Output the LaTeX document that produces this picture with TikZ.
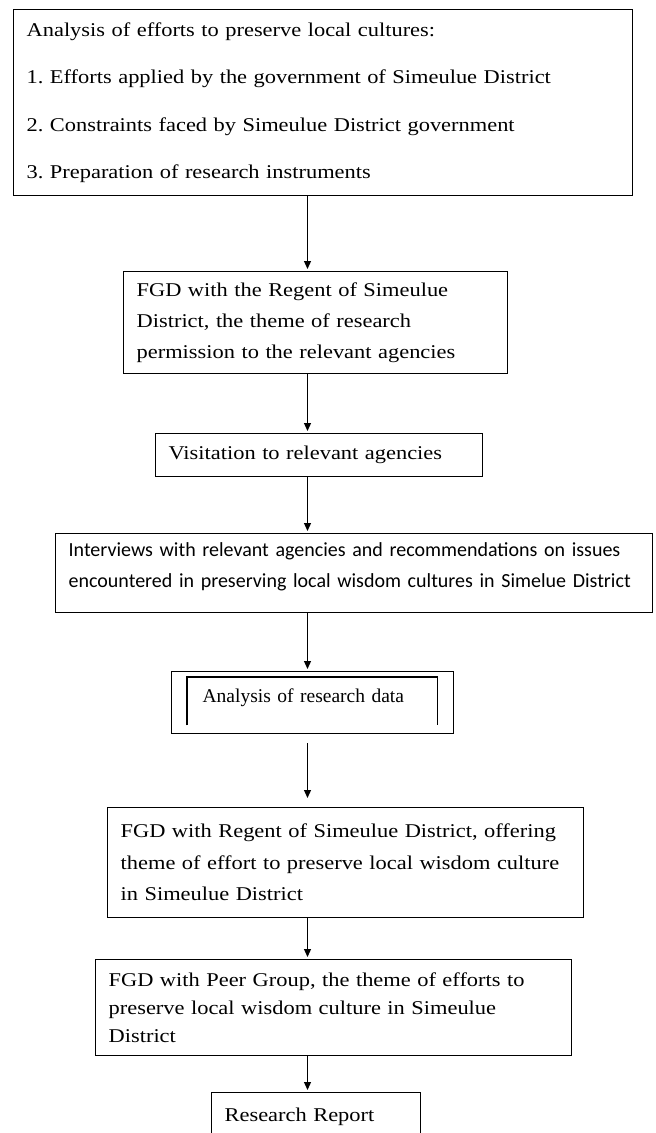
\documentclass[tikz,border=0pt]{standalone}
\usepackage{fontspec}
\setmainfont{Liberation Serif}
\newfontfamily\cambria[FakeStretch=1.15]{Liberation Serif}
\newfontfamily\calibri{Carlito}
\usepackage{tikz}
\usetikzlibrary{arrows.meta}
\frenchspacing
\tikzset{
  blok/.style={draw,line width=1.3pt,anchor=north west,align=left,inner xsep=13pt,inner ysep=0pt,
    font=\cambria\fontsize{19.5}{31}\selectfont},
  arah/.style={line width=1.2pt,-{Triangle[length=8pt,width=7pt]},shorten >=2pt},
}

\begin{document}
\begin{tikzpicture}[x=1pt,y=-1pt]
  \useasboundingbox (0,0) rectangle (656,1133);
  \coordinate (ax) at (307.5,0);
  \node[blok,text width=593pt,minimum height=186pt,font=\cambria\fontsize{19.5}{47.3}\selectfont] (top) at (13,9)
    {Analysis of efforts to preserve local cultures:\\
     1. Efforts applied by the government of Simeulue District\\
     2. Constraints faced by Simeulue District government\\
     3. Preparation of research instruments};
  \node[blok,text width=358pt,minimum height=102pt] (fgd1) at (123,271)
    {FGD with the Regent of Simeulue\\ District, the theme of research\\ permission to the relevant agencies};
  \node[blok,text width=301pt,minimum height=43pt] (visit) at (155,433) {Visitation to relevant agencies};
  \node[blok,text width=571pt,minimum height=79pt,text height=0pt,text depth=33pt,
    font=\calibri\fontsize{20}{31}\selectfont] (intv) at (55,533)
    {Interviews with relevant agencies and recommendations on issues\\
     encountered in preserving local wisdom cultures in Simelue District};
  \node[blok,text width=220pt,inner xsep=31pt,minimum height=62pt,text height=5pt,text depth=5pt,
    font=\fontsize{19.5}{24}\selectfont] (anal) at (171,671) {Analysis of research data};
  \draw[line width=1.3pt] ([xshift=16pt,yshift=9pt]anal.south west) |- ([xshift=-17pt,yshift=-6pt]anal.north east)
    -- ([xshift=-17pt,yshift=9pt]anal.south east);
  \node[blok,text width=450pt,minimum height=110pt,font=\cambria\fontsize{19.5}{31.5}\selectfont] (fgd2) at (107,807)
    {FGD with Regent of Simeulue District, offering\\ theme of effort to preserve local wisdom culture\\ in Simeulue District};
  \node[blok,text width=450pt,minimum height=96pt,font=\cambria\fontsize{19.5}{28}\selectfont] (peer) at (95,959)
    {FGD with Peer Group, the theme of efforts to\\ preserve local wisdom culture in Simeulue\\ District};
  \node[blok,text width=183pt,minimum height=48pt] (report) at (211,1092) {Research Report};
  \draw[arah] (top.south -| ax) -- (fgd1.north -| ax);
  \draw[arah] (fgd1.south -| ax) -- (visit.north -| ax);
  \draw[arah] (visit.south -| ax) -- (intv.north -| ax);
  \draw[arah] (intv.south -| ax) -- (anal.north -| ax);
  \draw[arah,shorten <=9pt,shorten >=9pt] (anal.south -| ax) -- (fgd2.north -| ax);
  \draw[arah] (fgd2.south -| ax) -- (peer.north -| ax);
  \draw[arah] (peer.south -| ax) -- (report.north -| ax);
\end{tikzpicture}
\end{document}
